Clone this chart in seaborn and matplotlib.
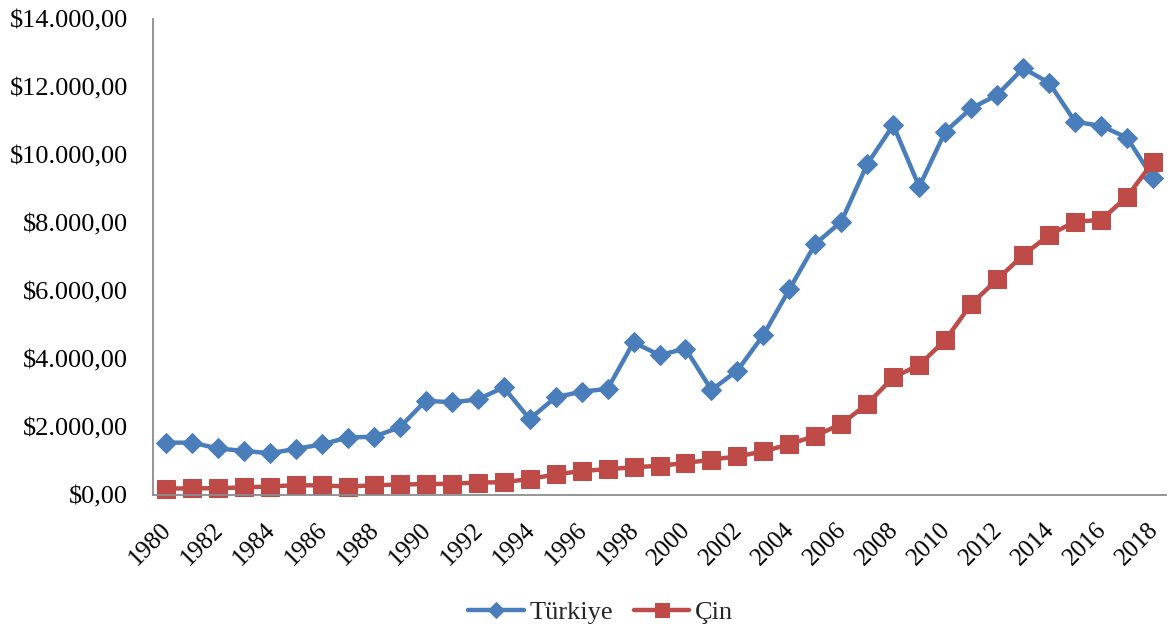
import matplotlib
matplotlib.use("Agg")
import matplotlib.pyplot as plt
import matplotlib.transforms as mtransforms
from matplotlib.ticker import FuncFormatter
import seaborn as sns
import pandas as pd

years = list(range(1980, 2019))

turkiye = [1540, 1540, 1370, 1295, 1230, 1355, 1490, 1690, 1715, 1990,
           2775, 2725, 2810, 3165, 2235, 2875, 3040, 3120, 4490, 4115,
           4305, 3090, 3660, 4705, 6050, 7385, 8040, 9735, 10880, 9065,
           10685, 11375, 11765, 12550, 12125, 10980, 10855, 10510, 9315]

cin = [190, 195, 200, 225, 250, 290, 280, 250, 285, 310,
       318, 333, 366, 377, 470, 605, 705, 760, 815, 860,
       940, 1040, 1135, 1280, 1495, 1740, 2090, 2680, 3460, 3825,
       4555, 5615, 6340, 7055, 7645, 8040, 8090, 8775, 9790]

series_names = ["Türkiye", "Çin"]
colors = {"Türkiye": "#4A7EBB", "Çin": "#BE4B48"}

df = pd.DataFrame({"Yıl": years * 2,
                   "Değer": turkiye + cin,
                   "Ülke": [series_names[0]] * len(years) + [series_names[1]] * len(years)})

sns.set_theme(style="white")
plt.rcParams["font.family"] = ["Liberation Serif", "DejaVu Serif"]

fig = plt.figure(figsize=(11.73, 6.27), dpi=100)
ax = fig.add_axes([153 / 1173, 1 - 495 / 627, (1166 - 153) / 1173, (495 - 19) / 627])

sns.lineplot(data=df[df["Ülke"] == "Türkiye"], x="Yıl", y="Değer", ax=ax,
             color=colors["Türkiye"], marker="D", markersize=10.5,
             markeredgecolor=colors["Türkiye"], linewidth=3.2,
             label="Türkiye", clip_on=False)
sns.lineplot(data=df[df["Ülke"] == "Çin"], x="Yıl", y="Değer", ax=ax,
             color=colors["Çin"], marker="s", markersize=13.5,
             markeredgecolor=colors["Çin"], linewidth=3.2,
             label="Çin", clip_on=False)

ax.set_xlim(1979.5, 2018.5)
ax.set_ylim(0, 14000)
ax.set_yticks(range(0, 14001, 2000))
ax.set_xticks(years[::2])


def tl_format(v, pos):
    s = f"{v:,.2f}"
    s = s.replace(",", "X").replace(".", ",").replace("X", ".")
    return "$" + s


ax.yaxis.set_major_formatter(FuncFormatter(tl_format))
ax.set_xticklabels([str(y) for y in years[::2]], rotation=45, ha="right",
                   rotation_mode="anchor")
ax.tick_params(axis="both", length=0, colors="black")
ax.tick_params(axis="x", pad=17, labelsize=18)
ax.tick_params(axis="y", pad=18, labelsize=19)
shift = mtransforms.ScaledTranslation(-6 / 100, 0, fig.dpi_scale_trans)
for lbl in ax.get_xticklabels():
    lbl.set_transform(lbl.get_transform() + shift)
ax.set_xlabel("")
ax.set_ylabel("")

for side in ["top", "right"]:
    ax.spines[side].set_visible(False)
for side in ["left", "bottom"]:
    ax.spines[side].set_color("#8C8C8C")
    ax.spines[side].set_linewidth(1.3)

handles, labels = ax.get_legend_handles_labels()
ax.get_legend().remove()
fig.legend(handles, labels, loc="center", bbox_to_anchor=(0.512, 1 - 612 / 627),
           ncol=2, frameon=False, fontsize=19, handlelength=2.1,
           handletextpad=0.2, columnspacing=0.8, markerscale=0.75)

fig.savefig("out.png", dpi=100)
